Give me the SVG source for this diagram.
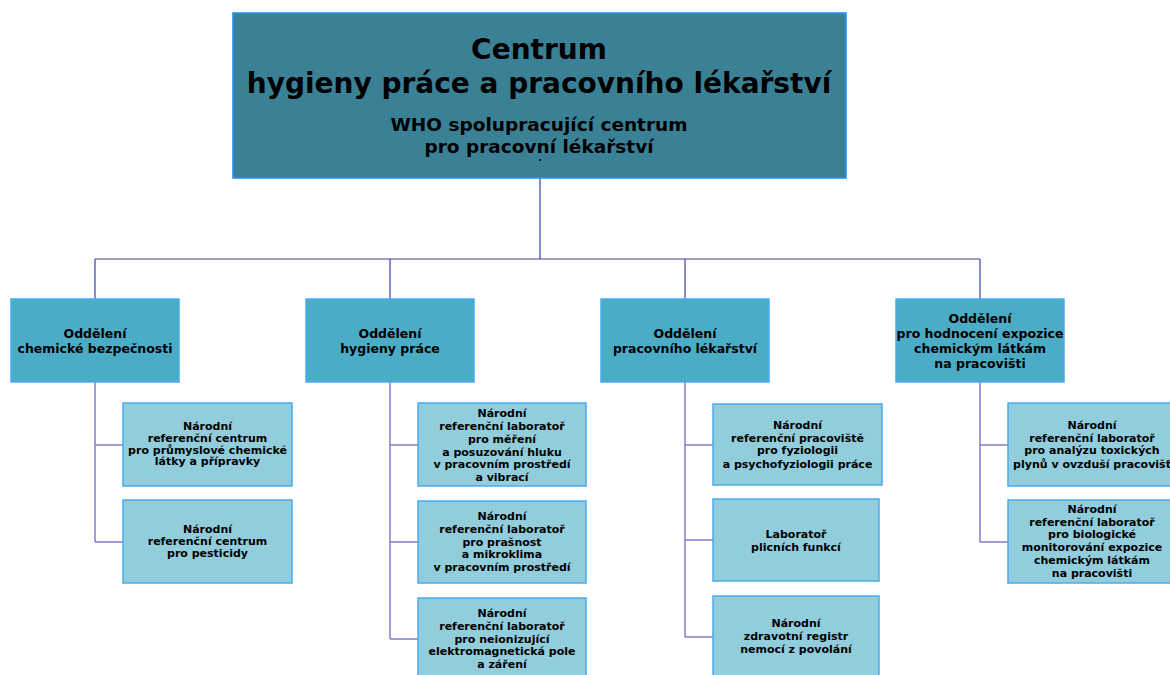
<svg xmlns="http://www.w3.org/2000/svg" width="1170" height="675" viewBox="0 0 1170 675">
<style>
text{font-family:"DejaVu Sans","Liberation Sans",sans-serif;font-weight:bold;fill:#000;text-anchor:middle}
.top{fill:#3A8196;stroke:#2A93EE;stroke-width:1.6}
.dept{fill:#4BACC6;stroke:#4AAAF0;stroke-width:1.5}
.sub{fill:#92CDDC;stroke:#4AAAF0;stroke-width:1.5}
.d{font-size:12.5px}
.s{font-size:11px}
.conn line{stroke:#7F7FC6;stroke-width:1.5}
.conn line.dk{stroke:#3C3CA0;stroke-width:1.2}
</style>
<rect width="1170" height="675" fill="#fff"/>
<g class="conn">
<line class="dk" x1="540" y1="178" x2="540" y2="259"/>
<line class="dk" x1="95" y1="259" x2="980" y2="259"/>
<line class="dk" x1="95" y1="259" x2="95" y2="299"/>
<line class="dk" x1="390" y1="259" x2="390" y2="299"/>
<line class="dk" x1="685" y1="259" x2="685" y2="299"/>
<line class="dk" x1="980" y1="259" x2="980" y2="299"/>
<line x1="95" y1="382" x2="95" y2="542"/>
<line x1="95" y1="445" x2="123" y2="445"/>
<line x1="95" y1="542" x2="123" y2="542"/>
<line x1="390" y1="382" x2="390" y2="639"/>
<line x1="390" y1="445" x2="418" y2="445"/>
<line x1="390" y1="542" x2="418" y2="542"/>
<line x1="390" y1="639" x2="418" y2="639"/>
<line x1="685" y1="382" x2="685" y2="637"/>
<line x1="685" y1="445" x2="713" y2="445"/>
<line x1="685" y1="540" x2="713" y2="540"/>
<line x1="685" y1="637" x2="713" y2="637"/>
<line x1="980" y1="382" x2="980" y2="542"/>
<line x1="980" y1="445" x2="1008" y2="445"/>
<line x1="980" y1="542" x2="1008" y2="542"/>
</g>
<g id="top">
<rect class="top" x="233" y="13" width="613" height="165"/>
<text x="539" y="59" style="font-size:28px">Centrum</text>
<text x="539" y="93" style="font-size:28px">hygieny práce a pracovního lékařství</text>
<text x="539" y="131" style="font-size:18.5px">WHO spolupracující centrum</text>
<text x="539" y="153" style="font-size:18.5px">pro pracovní lékařství</text>
<rect x="539.5" y="159" width="1.5" height="2" fill="#000"/>
</g>
<g id="dept1">
<rect class="dept" x="11" y="299" width="168" height="83"/>
<text class="d" x="95" y="338">Oddělení</text>
<text class="d" x="95" y="353">chemické bezpečnosti</text>
</g>
<g id="dept2">
<rect class="dept" x="306" y="299" width="168" height="83"/>
<text class="d" x="390" y="338">Oddělení</text>
<text class="d" x="390" y="353">hygieny práce</text>
</g>
<g id="dept3">
<rect class="dept" x="601" y="299" width="168" height="83"/>
<text class="d" x="685" y="338">Oddělení</text>
<text class="d" x="685" y="353">pracovního lékařství</text>
</g>
<g id="dept4">
<rect class="dept" x="896" y="299" width="168" height="83"/>
<text class="d" x="980" y="323">Oddělení</text>
<text class="d" x="980" y="338">pro hodnocení expozice</text>
<text class="d" x="980" y="353">chemickým látkám</text>
<text class="d" x="980" y="368">na pracovišti</text>
</g>
<g id="sub1a">
<rect class="sub" x="123" y="403" width="169" height="83"/>
<text class="s" x="207.5" y="430">Národní</text>
<text class="s" x="207.5" y="442">referenční centrum</text>
<text class="s" x="207.5" y="453.5">pro průmyslové chemické</text>
<text class="s" x="207.5" y="465">látky a přípravky</text>
</g>
<g id="sub1b">
<rect class="sub" x="123" y="500" width="169" height="83"/>
<text class="s" x="207.5" y="533">Národní</text>
<text class="s" x="207.5" y="545">referenční centrum</text>
<text class="s" x="207.5" y="557">pro pesticidy</text>
</g>
<g id="sub2a">
<rect class="sub" x="418" y="403" width="168" height="83"/>
<text class="s" x="502" y="416.5">Národní</text>
<text class="s" x="502" y="429.5">referenční laboratoř</text>
<text class="s" x="502" y="442.5">pro měření</text>
<text class="s" x="502" y="455.5">a posuzování hluku</text>
<text class="s" x="502" y="468.3">v pracovním prostředí</text>
<text class="s" x="502" y="481">a vibrací</text>
</g>
<g id="sub2b">
<rect class="sub" x="418" y="501" width="168" height="82"/>
<text class="s" x="502" y="520">Národní</text>
<text class="s" x="502" y="532.7">referenční laboratoř</text>
<text class="s" x="502" y="545.5">pro prašnost</text>
<text class="s" x="502" y="558.3">a mikroklima</text>
<text class="s" x="502" y="571">v pracovním prostředí</text>
</g>
<g id="sub2c">
<rect class="sub" x="418" y="598" width="168" height="90"/>
<text class="s" x="502" y="616.7">Národní</text>
<text class="s" x="502" y="629.5">referenční laboratoř</text>
<text class="s" x="502" y="642.5">pro neionizující</text>
<text class="s" x="502" y="655.3">elektromagnetická pole</text>
<text class="s" x="502" y="668">a záření</text>
</g>
<g id="sub3a">
<rect class="sub" x="713" y="404" width="169" height="81"/>
<text class="s" x="797.5" y="429.3">Národní</text>
<text class="s" x="797.5" y="441.8">referenční pracoviště</text>
<text class="s" x="797.5" y="454.3">pro fyziologii</text>
<text class="s" x="797.5" y="467.5">a psychofyziologii práce</text>
</g>
<g id="sub3b">
<rect class="sub" x="713" y="499" width="166" height="82"/>
<text class="s" x="796" y="538.3">Laboratoř</text>
<text class="s" x="796" y="551">plicních funkcí</text>
</g>
<g id="sub3c">
<rect class="sub" x="713" y="596" width="166" height="92"/>
<text class="s" x="796" y="626.7">Národní</text>
<text class="s" x="796" y="640">zdravotní registr</text>
<text class="s" x="796" y="653.3">nemocí z povolání</text>
</g>
<g id="sub4a">
<rect class="sub" x="1008" y="403" width="168" height="83"/>
<text class="s" x="1092" y="429.3">Národní</text>
<text class="s" x="1092" y="441.8">referenční laboratoř</text>
<text class="s" x="1092" y="454.3">pro analýzu toxických</text>
<text class="s" x="1092" y="467.5">plynů v ovzduší pracovišť</text>
</g>
<g id="sub4b">
<rect class="sub" x="1008" y="500" width="168" height="83"/>
<text class="s" x="1092" y="512.7">Národní</text>
<text class="s" x="1092" y="525.7">referenční laboratoř</text>
<text class="s" x="1092" y="538.3">pro biologické</text>
<text class="s" x="1092" y="551">monitorování expozice</text>
<text class="s" x="1092" y="564">chemickým látkám</text>
<text class="s" x="1092" y="576.7">na pracovišti</text>
</g>
</svg>
